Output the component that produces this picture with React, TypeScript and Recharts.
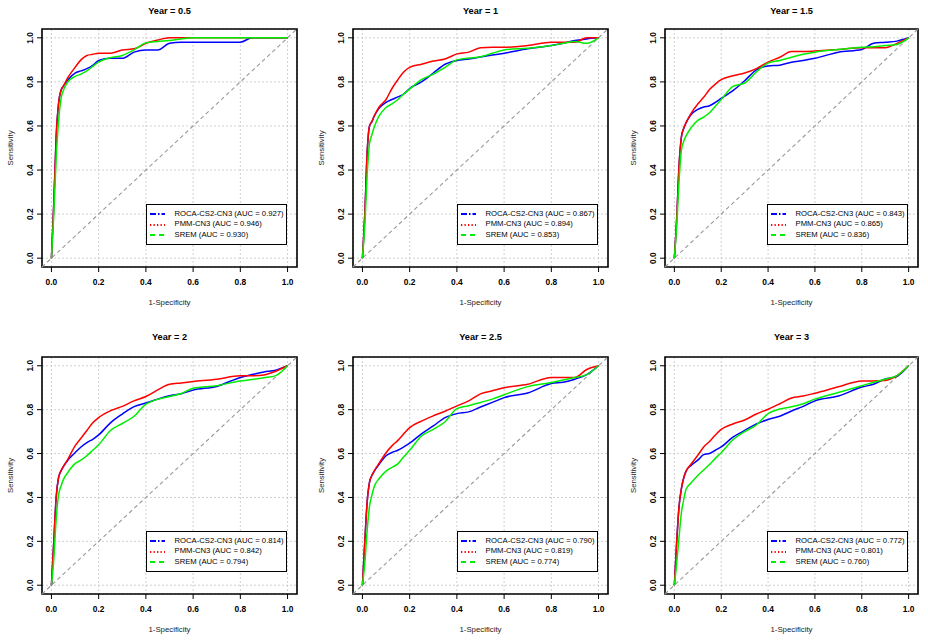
import {
  CartesianGrid,
  Legend,
  Line,
  LineChart,
  ReferenceArea,
  ReferenceLine,
  XAxis,
  YAxis,
} from "recharts";

// time points, one panel each
const years = ["0.5", "1", "1.5", "2", "2.5", "3"];

const aucRoca = [0.927, 0.867, 0.843, 0.814, 0.79, 0.772];
const aucPmm = [0.946, 0.894, 0.865, 0.842, 0.819, 0.801];
const aucSrem = [0.93, 0.853, 0.836, 0.794, 0.774, 0.76];

// shared false-positive-rate grid
const fpr = [
  0, 0.01, 0.02, 0.03, 0.04, 0.05, 0.07, 0.1, 0.125, 0.15, 0.175, 0.2, 0.25,
  0.3, 0.35, 0.4, 0.45, 0.5, 0.55, 0.6, 0.7, 0.8, 0.85, 0.9, 0.95, 1,
];

// sensitivity
const tprRoca = [
  [0, .25, .55, .7, .76, .78, .81, .84, .85, .86, .875, .897, .907, .907, .935, .945, .945, .975, .98, .98, .98, .98, 1, 1, 1, 1],
  [0, .2, .48, .6, .62, .645, .68, .707, .72, .732, .745, .77, .8, .84, .88, .897, .904, .913, .922, .93, .95, .965, .975, .988, .995, 1],
  [0, .18, .42, .55, .59, .615, .65, .675, .686, .692, .707, .725, .76, .805, .855, .872, .876, .889, .897, .907, .935, .947, .975, .98, .985, 1],
  [0, .2, .4, .49, .52, .54, .57, .604, .63, .65, .665, .685, .74, .78, .814, .83, .848, .863, .873, .889, .906, .947, .96, .972, .98, 1],
  [0, .2, .38, .47, .5, .52, .55, .59, .605, .615, .63, .647, .69, .726, .764, .782, .79, .812, .833, .855, .876, .919, .925, .939, .96, 1],
  [0, .2, .36, .44, .49, .52, .545, .57, .595, .6, .615, .63, .675, .705, .735, .755, .77, .794, .815, .84, .862, .903, .916, .94, .952, 1],
];

const tprPmm = [
  [0, .25, .55, .7, .76, .78, .82, .866, .9, .92, .925, .93, .93, .945, .95, .975, .99, 1, 1, 1, 1, 1, 1, 1, 1, 1],
  [0, .2, .48, .6, .62, .645, .685, .72, .77, .81, .845, .866, .88, .895, .904, .927, .935, .955, .957, .957, .965, .98, .98, .98, 1, 1],
  [0, .18, .42, .55, .59, .615, .655, .7, .73, .765, .79, .81, .828, .84, .86, .89, .912, .938, .938, .94, .947, .955, .955, .955, .975, 1],
  [0, .2, .4, .49, .52, .54, .575, .635, .67, .705, .74, .764, .795, .815, .84, .86, .89, .916, .922, .928, .939, .954, .954, .958, .975, 1],
  [0, .2, .38, .47, .5, .52, .555, .604, .635, .66, .69, .718, .748, .772, .793, .817, .84, .872, .886, .9, .916, .947, .947, .947, .983, 1],
  [0, .2, .36, .44, .49, .52, .55, .592, .63, .655, .685, .71, .735, .753, .78, .802, .827, .853, .862, .875, .904, .931, .931, .933, .955, 1],
];

const tprSrem = [
  [0, .2, .45, .62, .72, .76, .8, .825, .835, .85, .87, .89, .91, .92, .945, .977, .983, .988, .995, 1, 1, 1, 1, 1, 1, 1],
  [0, .15, .38, .52, .56, .595, .645, .684, .7, .72, .745, .767, .81, .835, .866, .9, .908, .914, .93, .945, .953, .965, .975, .983, .975, 1],
  [0, .15, .35, .49, .53, .555, .59, .625, .64, .66, .69, .72, .78, .795, .845, .885, .897, .912, .925, .935, .947, .957, .96, .965, .97, 1],
  [0, .12, .3, .41, .45, .48, .515, .554, .57, .59, .615, .64, .705, .737, .77, .825, .847, .86, .874, .898, .909, .931, .937, .945, .955, 1],
  [0, .1, .25, .36, .41, .45, .485, .52, .537, .553, .585, .615, .68, .71, .745, .805, .818, .833, .848, .868, .905, .924, .935, .947, .96, 1],
  [0, .1, .22, .33, .39, .437, .465, .5, .525, .55, .578, .604, .663, .7, .73, .782, .803, .813, .827, .848, .878, .909, .925, .939, .955, 1],
];

const ticks = [0, 0.2, 0.4, 0.6, 0.8, 1];

const series = [
  { key: "roca", label: "ROCA-CS2-CN3", auc: aucRoca, color: "#0000ff", dash: "6 2 1.5 2" },
  { key: "pmm", label: "PMM-CN3", auc: aucPmm, color: "#ff0000", dash: "1.3 2.2" },
  { key: "srem", label: "SREM", auc: aucSrem, color: "#00ee00", dash: "5 4" },
];

// page layout of the plot boxes (R style par(mfrow = c(2, 3)))
const colLeft = [0, 310, 620];
const colWidth = [310, 310, 308];
const boxLeft = [42, 353, 665];
const boxRight = [297, 608, 918];
const boxTop = [29, 357];
const boxBottom = [267, 594];
const titleY = [11, 337];

const FONT = '"Liberation Sans", Arial, Helvetica, sans-serif';
const fmt = (v: number) => v.toFixed(1);

function YTick(props: any) {
  const { x, y, payload } = props;
  return (
    <text
      transform={`translate(${x - 5.5},${y}) rotate(-90)`}
      textAnchor="middle"
      dominantBaseline="central"
      fontSize={8.4}
      fontWeight="bold"
      fill="#000"
    >
      {fmt(payload.value)}
    </text>
  );
}

function RocLegend(props: any) {
  const { payload = [] } = props;
  // keep the order the series were drawn in
  const items = series
    .map((s) => ({ s, entry: payload.find((p: any) => p.dataKey === s.key) }))
    .filter((d) => d.entry);
  return (
    <div
      style={{
        border: "1px solid #000",
        background: "#fff",
        padding: "4px 0 4px 3px",
        fontSize: 7.7,
        lineHeight: "10.4px",
        fontFamily: FONT,
        color: "#000",
        boxSizing: "border-box",
      }}
    >
      {items.map(({ s, entry }) => (
        <div key={s.key} style={{ display: "flex", alignItems: "center", height: 10.4 }}>
          <svg width={15} height={6} style={{ marginRight: 10 }}>
            <line
              x1={0}
              y1={3}
              x2={15}
              y2={3}
              stroke={entry.color}
              strokeWidth={1.8}
              strokeDasharray={s.dash}
            />
          </svg>
          <span style={{ whiteSpace: "nowrap" }}>{entry.value}</span>
        </div>
      ))}
    </div>
  );
}

function Panel({ index }: { index: number }) {
  const col = index % 3;
  const row = Math.floor(index / 3);
  const left = colLeft[col];
  const top = row * 320;
  const width = colWidth[col];
  const height = 320;

  const yAxisWidth = boxLeft[col] - left;
  const xAxisHeight = top + height - boxBottom[row];
  const marginTop = boxTop[row] - top;
  const marginRight = left + width - boxRight[col];

  const rows = fpr.map((x, i) => ({
    fpr: x,
    roca: tprRoca[index][i],
    pmm: tprPmm[index][i],
    srem: tprSrem[index][i],
  }));

  const legendW = 141;
  const legendH = 39;
  const legendLeft = boxRight[col] - left - 10.5 - legendW;
  const legendTop = boxBottom[row] - top - 24 - legendH;

  return (
    <div style={{ position: "absolute", left, top, width, height }}>
      <div
        style={{
          position: "absolute",
          left: boxLeft[col] - left,
          width: boxRight[col] - boxLeft[col],
          top: titleY[row] - top - 6,
          lineHeight: "12px",
          textAlign: "center",
          fontWeight: "bold",
          fontSize: 9.2,
          zIndex: 2,
        }}
      >
        Year = {years[index]}
      </div>
      <LineChart
        width={width}
        height={height}
        data={rows}
        margin={{ top: marginTop, right: marginRight, bottom: 0, left: 0 }}
      >
        <CartesianGrid stroke="#c4c4c4" strokeDasharray="2 2" strokeWidth={0.8} />
        <XAxis
          dataKey="fpr"
          type="number"
          domain={[-0.04, 1.04]}
          ticks={ticks}
          tickFormatter={fmt}
          height={xAxisHeight}
          axisLine={false}
          tickLine={{ stroke: "#000", strokeWidth: 1 }}
          tickSize={5}
          tickMargin={7.5}
          tick={{ fontSize: 8.4, fontWeight: "bold", fill: "#000" }}
          label={{
            value: "1-Specificity",
            position: "insideBottom",
            offset: xAxisHeight - 38,
            style: { fontSize: 7.8, fill: "#222" },
          }}
        />
        <YAxis
          type="number"
          domain={[-0.04, 1.04]}
          ticks={ticks}
          width={yAxisWidth}
          axisLine={false}
          tickLine={{ stroke: "#000", strokeWidth: 1 }}
          tickSize={5}
          tickMargin={2}
          tick={<YTick />}
          label={{
            value: "Sensitivity",
            angle: -90,
            position: "insideLeft",
            offset: yAxisWidth - 32,
            style: { fontSize: 7.8, fill: "#222", textAnchor: "middle" },
          }}
        />
        <ReferenceLine
          segment={[
            { x: -0.04, y: -0.04 },
            { x: 1.04, y: 1.04 },
          ]}
          stroke="#999"
          strokeWidth={1.1}
          strokeDasharray="4 3"
        />
        {series.map((s) => (
          <Line
            key={s.key}
            dataKey={s.key}
            name={`${s.label} (AUC = ${s.auc[index].toFixed(3)})`}
            type="monotone"
            stroke={s.color}
            strokeWidth={1.5}
            dot={false}
            activeDot={false}
            isAnimationActive={false}
          />
        ))}
        <ReferenceArea
          x1={-0.04}
          x2={1.04}
          y1={-0.04}
          y2={1.04}
          fill="none"
          stroke="#000"
          strokeWidth={1.6}
        />
        <Legend
          layout="vertical"
          align="center"
          verticalAlign="middle"
          content={<RocLegend />}
          wrapperStyle={{ left: legendLeft, top: legendTop, width: legendW, height: legendH }}
        />
      </LineChart>
    </div>
  );
}

export default function App() {
  return (
    <div
      style={{
        position: "absolute",
        left: 0,
        top: 0,
        width: 928,
        height: 640,
        background: "#fff",
        fontFamily: FONT,
      }}
    >
      {years.map((_, i) => (
        <Panel key={i} index={i} />
      ))}
    </div>
  );
}
